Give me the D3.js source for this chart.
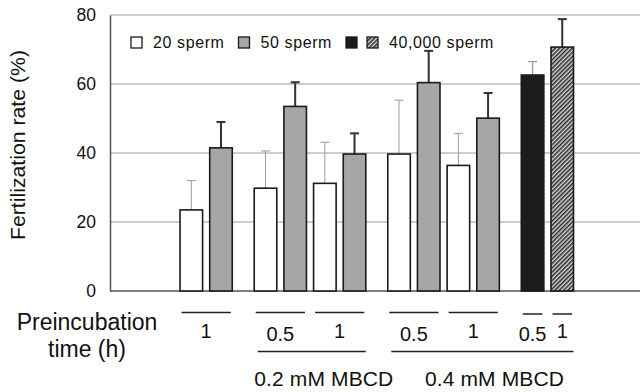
<!DOCTYPE html>
<html>
<head>
<meta charset="utf-8">
<script src="https://cdn.jsdelivr.net/npm/d3@7"></script>
<style>
  body { margin: 0; background: #fff; }
  text { font-family: "Liberation Sans", Arial, sans-serif; fill: #111; }
</style>
</head>
<body>
<svg id="chart" width="640" height="392"></svg>
<script>
// bar data (left to right)
const barBlock  = [0, 0, 1, 1, 1, 1, 2, 2, 2, 2, 3, 3];
const barTime   = ["1", "1", "0.5", "0.5", "1", "1", "0.5", "0.5", "1", "1", "0.5", "1"];
const barSeries = ["s20", "s50", "s20", "s50", "s20", "s50", "s20", "s50", "s20", "s50", "s40k", "s40kb"];
const barMean   = [23.5, 41.5, 29.8, 53.5, 31.2, 39.7, 39.7, 60.4, 36.4, 50.1, 62.6, 70.7];
const barErr    = [8.5, 7.5, 10.8, 7.0, 11.9, 6.0, 15.6, 9.2, 9.3, 7.3, 3.9, 8.1];

// treatment groups along the bottom (blocks each one covers)
const groupLabels = ["0.2 mM MBCD", "0.4 mM MBCD"];
const groupBlocks = [[1, 1], [2, 3]];

const yTicks = [0, 20, 40, 60, 80];

const legendItems = [
  { label: "20 sperm", keys: ["s20"] },
  { label: "50 sperm", keys: ["s50"] },
  { label: "40,000 sperm", keys: ["s40k", "s40kb"] }
];

const svg = d3.select("#chart");

// patterns
const defs = svg.append("defs");
defs.append("pattern")
  .attr("id", "hatch")
  .attr("patternUnits", "userSpaceOnUse")
  .attr("width", 3).attr("height", 3)
  .attr("patternTransform", "rotate(45)")
  .call(p => {
    p.append("rect").attr("width", 3).attr("height", 3).attr("fill", "#d4d4d4");
    p.append("line").attr("x1", 0.75).attr("y1", 0).attr("x2", 0.75).attr("y2", 3)
      .attr("stroke", "#2a2a2a").attr("stroke-width", 1.5);
  });

const fillFor = {
  s20: "#ffffff",
  s50: "#a6a6a6",
  s40k: "#1c1c1c",
  s40kb: "url(#hatch)"
};
const errStyle = {
  s20: { c: "#9a9a9a", w: 1 },
  s50: { c: "#333", w: 2 },
  s40k: { c: "#9a9a9a", w: 1.3 },
  s40kb: { c: "#333", w: 2 }
};

// slot position: one slot per bar, half a slot between blocks
let slots = [];
barBlock.forEach((b, i) => {
  if (i === 0) slots.push(0);
  else slots.push(slots[i - 1] + (b !== barBlock[i - 1] ? 1.5 : 1));
});

const plot = { left: 110, right: 640, top: 15, bottom: 291 };
const x = d3.scaleLinear().domain([-2.36, 15.5]).range([plot.left, plot.right]);
const y = d3.scaleLinear().domain([0, 80]).range([plot.bottom, plot.top]);
const bw = x(0.76) - x(0);

// gridlines
svg.append("g")
  .selectAll("line")
  .data(yTicks.filter(t => t > 0))
  .join("line")
  .attr("x1", plot.left).attr("x2", plot.right)
  .attr("y1", d => y(d)).attr("y2", d => y(d))
  .attr("stroke", "#9c9c9c").attr("stroke-width", 1.2);

// y axis
const yAxis = svg.append("g")
  .attr("transform", `translate(${plot.left},0)`)
  .call(d3.axisLeft(y).tickValues(yTicks).tickSize(0).tickPadding(14));
yAxis.select(".domain").attr("stroke", "#555").attr("stroke-width", 1.5);
yAxis.selectAll("text")
  .attr("font-size", 17.5)
  .attr("font-family", "Liberation Sans, Arial, sans-serif")
  .attr("fill", "#111");

// bottom line
svg.append("line")
  .attr("x1", plot.left).attr("x2", plot.right)
  .attr("y1", y(0)).attr("y2", y(0))
  .attr("stroke", "#555").attr("stroke-width", 1.5);

// y title
svg.append("text")
  .attr("transform", "translate(25,145) rotate(-90)")
  .attr("text-anchor", "middle")
  .attr("font-size", 21)
  .attr("textLength", 190)
  .attr("lengthAdjust", "spacingAndGlyphs")
  .text("Fertilization rate (%)");

// error bars (drawn first so the bars sit over the stems)
const errG = svg.append("g");
barMean.forEach((m, i) => {
  const cx = x(slots[i]) + bw / 2;
  const st = errStyle[barSeries[i]];
  errG.append("line")
    .attr("x1", cx).attr("x2", cx)
    .attr("y1", y(m)).attr("y2", y(m + barErr[i]))
    .attr("stroke", st.c).attr("stroke-width", st.w);
  errG.append("line")
    .attr("x1", cx - 4.5).attr("x2", cx + 4.5)
    .attr("y1", y(m + barErr[i])).attr("y2", y(m + barErr[i]))
    .attr("stroke", st.c).attr("stroke-width", st.w);
});

// bars
svg.append("g")
  .selectAll("rect")
  .data(barMean)
  .join("rect")
  .attr("x", (d, i) => x(slots[i]))
  .attr("y", d => y(d))
  .attr("width", bw)
  .attr("height", d => y(0) - y(d))
  .attr("fill", (d, i) => fillFor[barSeries[i]])
  .attr("stroke", "#1a1a1a")
  .attr("stroke-width", 1.6);

// legend
const leg = svg.append("g");
let lx = 131;
legendItems.forEach(item => {
  item.keys.forEach(k => {
    leg.append("rect")
      .attr("x", lx).attr("y", 37)
      .attr("width", 11).attr("height", 11)
      .attr("fill", fillFor[k])
      .attr("stroke", "#1a1a1a").attr("stroke-width", 1.3);
    lx += 21;
  });
  lx += 1;
  const t = leg.append("text")
    .attr("x", lx).attr("y", 47.5)
    .attr("font-size", 16)
    .attr("letter-spacing", 0.6)
    .text(item.label);
  lx += t.node().getComputedTextLength() + 14;
});

// preincubation time labels under each run of bars
const runs = [];
barTime.forEach((t, i) => {
  const last = runs[runs.length - 1];
  if (last && last.t === t && last.block === barBlock[i]) last.end = i;
  else runs.push({ t: t, block: barBlock[i], start: i, end: i });
});
const lab = svg.append("g");
runs.forEach(r => {
  const x0 = x(slots[r.start]) + 1.5;
  const x1 = x(slots[r.end]) + bw - 1.5;
  const ly = r.block === 3 ? 314 : 312.5;
  lab.append("line")
    .attr("x1", x0).attr("x2", x1)
    .attr("y1", ly).attr("y2", ly)
    .attr("stroke", "#222").attr("stroke-width", 1.5);
  lab.append("text")
    .attr("x", (x0 + x1) / 2)
    .attr("y", r.t === "0.5" ? 341 : 338)
    .attr("text-anchor", "middle")
    .attr("font-size", 20)
    .text(r.t);
});

// MBCD group lines and labels
groupLabels.forEach((g, gi) => {
  const [b0, b1] = groupBlocks[gi];
  const first = barBlock.indexOf(b0);
  const last = barBlock.lastIndexOf(b1);
  const x0 = x(slots[first]) + 3.5;
  const x1 = x(slots[last]) + bw;
  lab.append("line")
    .attr("x1", x0).attr("x2", x1)
    .attr("y1", 351.5).attr("y2", 351.5)
    .attr("stroke", "#222").attr("stroke-width", 1.5);
  lab.append("text")
    .attr("x", (x0 + x1) / 2 + 12)
    .attr("y", 386)
    .attr("text-anchor", "middle")
    .attr("font-size", 21)
    .attr("textLength", 139)
    .attr("lengthAdjust", "spacing")
    .text(g);
});

// row title
lab.append("text")
  .attr("x", 87).attr("y", 330)
  .attr("text-anchor", "middle")
  .attr("font-size", 23)
  .text("Preincubation");
lab.append("text")
  .attr("x", 87).attr("y", 357)
  .attr("text-anchor", "middle")
  .attr("font-size", 23)
  .text("time (h)");
</script>
</body>
</html>
